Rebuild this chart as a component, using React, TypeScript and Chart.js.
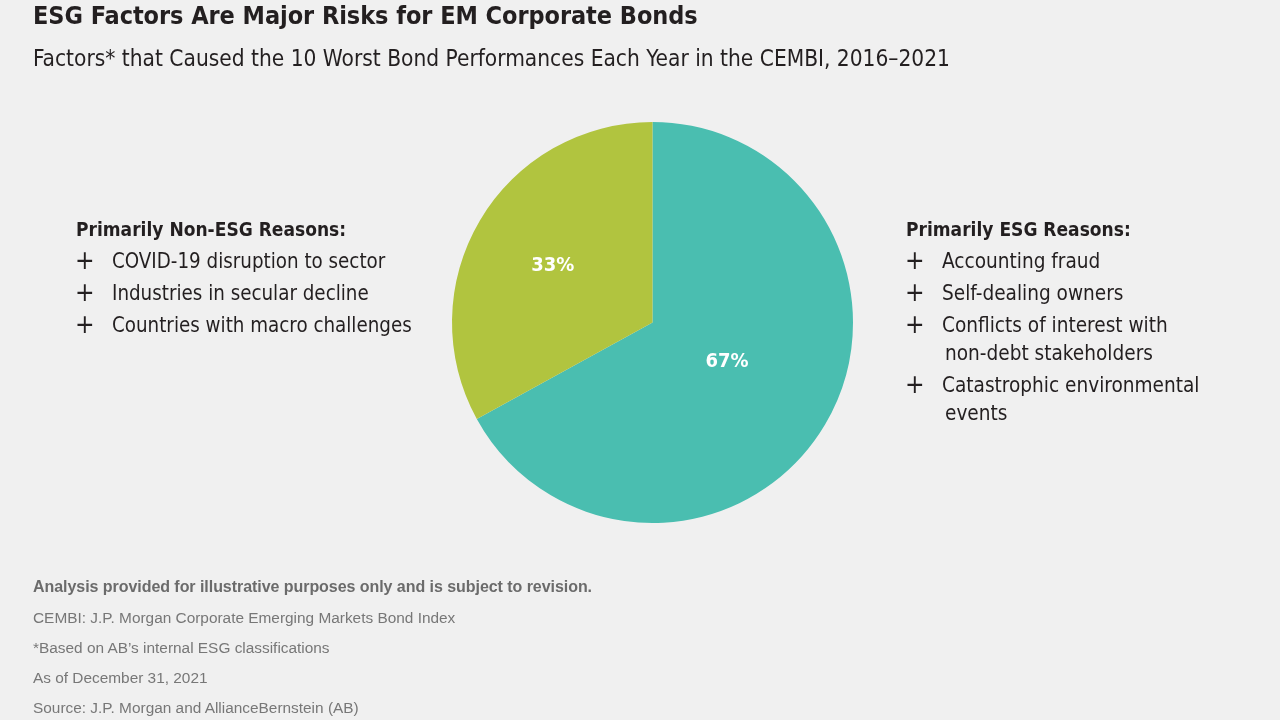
import React, { useEffect, useRef } from "react";
import { Chart, registerables } from "chart.js";

Chart.register(...registerables);

// ---- data ----
const categories = ["Primarily ESG Reasons", "Primarily Non-ESG Reasons"];
const shares = [67, 33];
const sliceColors = ["#4ABEB0", "#B1C43F"];
const labelRadiusFractions = [0.416, 0.578];
const labelAngleOffsetsDeg = [-3.9, 0];

const titleText = "ESG Factors Are Major Risks for EM Corporate Bonds";
const subtitleText =
  "Factors* that Caused the 10 Worst Bond Performances Each Year in the CEMBI, 2016–2021";

const nonEsgHeading = "Primarily Non-ESG Reasons:";
const nonEsgReasons: string[][] = [
  ["COVID-19 disruption to sector"],
  ["Industries in secular decline"],
  ["Countries with macro challenges"],
];
const esgHeading = "Primarily ESG Reasons:";
const esgReasons: string[][] = [
  ["Accounting fraud"],
  ["Self-dealing owners"],
  ["Conflicts of interest with", "non-debt stakeholders"],
  ["Catastrophic environmental", "events"],
];

const noteBold = "Analysis provided for illustrative purposes only and is subject to revision.";
const notes = [
  "CEMBI: J.P. Morgan Corporate Emerging Markets Bond Index",
  "*Based on AB’s internal ESG classifications",
  "As of December 31, 2021",
  "Source: J.P. Morgan and AllianceBernstein (AB)",
];

// ---- styling ----
const BG = "#F0F0F0";
const DARK = "#231F20";
const CONDENSED = '"DejaVu Sans Condensed", "DejaVu Sans", sans-serif';
const SANS = '"Liberation Sans", Arial, sans-serif';

type TextProps = {
  x: number;
  baseline: number;
  size: number;
  family: string;
  weight?: number;
  color?: string;
  spacing?: number;
  children: React.ReactNode;
};

function Txt({ x, baseline, size, family, weight = 400, color = DARK, spacing = 0, children }: TextProps) {
  return (
    <div
      style={{
        position: "absolute",
        left: x,
        top: baseline - 0.846 * size,
        fontSize: size,
        lineHeight: `${size}px`,
        fontFamily: family,
        fontWeight: weight,
        color,
        letterSpacing: spacing,
        whiteSpace: "nowrap",
      }}
    >
      {children}
    </div>
  );
}

function ReasonList({
  x,
  heading,
  items,
  size,
}: {
  x: number;
  heading: string;
  items: string[][];
  size: number;
}) {
  const out: React.ReactNode[] = [];
  let base = 268;
  items.forEach((lines, i) => {
    out.push(
      <Txt key={`p${i}`} x={x - 1} baseline={base + 1} size={26} family={CONDENSED} weight={200}>
        +
      </Txt>
    );
    lines.forEach((ln, j) => {
      out.push(
        <Txt key={`t${i}-${j}`} x={x + 36 + (j > 0 ? 3 : 0)} baseline={base + j * 28} size={size} family={CONDENSED}>
          {ln}
        </Txt>
      );
    });
    base += 32 + (lines.length - 1) * 28;
  });
  return (
    <>
      <Txt x={x} baseline={236} size={19} family={CONDENSED} weight={700}>
        {heading}
      </Txt>
      {out}
    </>
  );
}

export default function App() {
  const canvasRef = useRef<HTMLCanvasElement | null>(null);

  useEffect(() => {
    const canvas = canvasRef.current;
    if (!canvas) return;

    const pctLabels = {
      id: "pctLabels",
      afterDatasetsDraw(chart: any) {
        const ctx = chart.ctx;
        const meta = chart.getDatasetMeta(0);
        const values = chart.data.datasets[0].data as number[];
        ctx.save();
        ctx.fillStyle = "#FFFFFF";
        ctx.font = `bold 20px ${CONDENSED}`;
        ctx.textAlign = "center";
        ctx.textBaseline = "alphabetic";
        meta.data.forEach((arc: any, i: number) => {
          const p = arc.getProps(["x", "y", "startAngle", "endAngle", "outerRadius"], true);
          const mid = (p.startAngle + p.endAngle) / 2 + (labelAngleOffsetsDeg[i] * Math.PI) / 180;
          const r = p.outerRadius * labelRadiusFractions[i];
          ctx.fillText(`${values[i]}%`, p.x + Math.cos(mid) * r, p.y + Math.sin(mid) * r + 7.3);
        });
        ctx.restore();
      },
    };

    const chart = new Chart(canvas, {
      type: "pie",
      data: {
        labels: categories,
        datasets: [
          {
            data: shares,
            backgroundColor: sliceColors,
            borderWidth: 0,
          },
        ],
      },
      options: {
        responsive: false,
        animation: false,
        layout: { padding: { left: 452, right: 427, top: 122, bottom: 197 } },
        plugins: {
          legend: { display: false },
          tooltip: { enabled: false },
          title: { display: false },
        },
      },
      plugins: [pctLabels],
    });
    return () => chart.destroy();
  }, []);

  return (
    <div
      style={{
        position: "fixed",
        left: 0,
        top: 0,
        width: 1280,
        height: 720,
        background: BG,
        overflow: "hidden",
      }}
    >
      <canvas
        ref={canvasRef}
        width={1280}
        height={720}
        style={{ position: "absolute", left: 0, top: 0, width: 1280, height: 720 }}
      />
      <Txt x={33} baseline={24} size={25} family={CONDENSED} weight={700} spacing={-0.05}>
        {titleText}
      </Txt>
      <Txt x={33} baseline={66} size={22.5} family={CONDENSED}>
        {subtitleText}
      </Txt>
      <ReasonList x={76} heading={nonEsgHeading} items={nonEsgReasons} size={20.35} />
      <ReasonList x={906} heading={esgHeading} items={esgReasons} size={20.6} />
      <Txt x={33} baseline={593} size={16} family={SANS} weight={700} color="#6B6B6B" spacing={-0.05}>
        {noteBold}
      </Txt>
      {notes.map((n, i) => (
        <Txt key={i} x={33} baseline={623 + i * 30} size={15.4} family={SANS} color="#777777">
          {n}
        </Txt>
      ))}
    </div>
  );
}
